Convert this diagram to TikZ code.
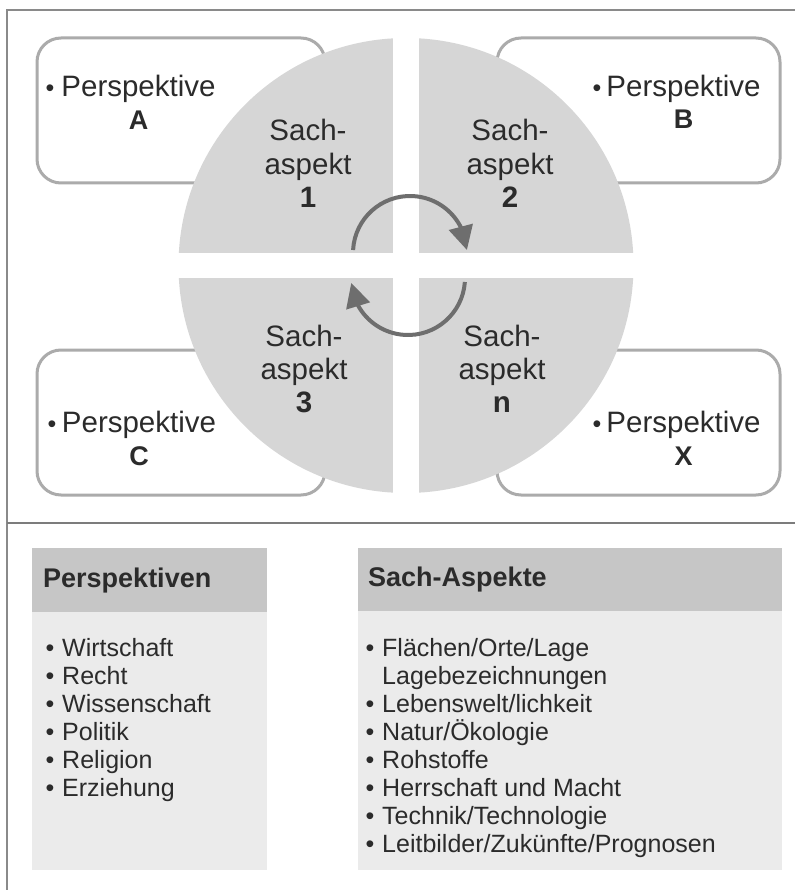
\documentclass[tikz,border=0pt]{standalone}
\usepackage{fontspec}
\setmainfont{Liberation Sans}
\usetikzlibrary{arrows.meta,bending}
\definecolor{circ}{HTML}{D6D6D6}
\definecolor{bord}{HTML}{ABABAB}
\definecolor{framec}{HTML}{8A8A8A}
\definecolor{arr}{HTML}{6E6E6E}
\definecolor{hdr}{HTML}{C6C6C6}
\definecolor{bdy}{HTML}{EBEBEB}
\definecolor{txt}{HTML}{2B2B2B}
\tikzset{
  perbox/.style={draw=bord, line width=3pt, rounded corners=24pt, fill=white,
    minimum width=288pt, minimum height=145pt, inner sep=0pt},
  pers/.style={anchor=base, inner sep=0pt, text=txt, font=\fontsize{29.5}{34}\selectfont},
  perbul/.style={anchor=base, inner sep=0pt, text=txt, font=\fontsize{25}{30}\selectfont},
  letter/.style={anchor=base, inner sep=0pt, text=txt, font=\fontsize{27}{30}\selectfont\bfseries},
  sach/.style={anchor=base, inner sep=0pt, text=txt, font=\fontsize{29.5}{34}\selectfont},
  sachnum/.style={anchor=base, inner sep=0pt, text=txt, font=\fontsize{29.5}{34}\selectfont\bfseries},
  cyc/.style={draw=arr, line width=4pt, -{Triangle[length=24pt,width=24pt]}},
  hdrbox/.style={fill=hdr, draw=none, anchor=north west, inner sep=0pt},
  bdybox/.style={fill=bdy, draw=none, anchor=north west, inner sep=0pt},
  hdrtxt/.style={anchor=base west, inner sep=0pt, text=txt, font=\fontsize{27}{32}\selectfont\bfseries},
  itm/.style={anchor=base west, inner sep=0pt, text=txt, font=\fontsize{25}{28}\selectfont},
  itmbul/.style={anchor=base, inner sep=0pt, text=txt, font=\fontsize{25}{28}\selectfont},
}
\begin{document}
\begin{tikzpicture}[x=1pt,y=-1pt]
\useasboundingbox (0,0) rectangle (795,890);
\fill[white] (0,0) rectangle (795,890);
% frame
\draw[framec, line width=2pt] (7,890) -- (7,10) -- (795,10);
\draw[framec!90!black, line width=2.5pt] (7,523) -- (795,523);

% perspective boxes
\node[perbox] (boxA) at (181,110.5) {};
\node[perbox, minimum width=283pt] (boxB) at (638.5,110.5) {};
\node[perbox] (boxC) at (181,422.5) {};
\node[perbox, minimum width=283pt] (boxX) at (638.5,422.5) {};

% circle with cross
\fill[circ] (406,265.5) circle[radius=227.5];
\begin{scope}
  \clip (406,265.5) circle[radius=228.5];
  \fill[white] (393,30) rectangle (419,500);
  \fill[white] (170,253) rectangle (645,278);
\end{scope}

% cycle arrows
\coordinate (c1) at (410,253);
\coordinate (c2) at (408,278);
\draw[cyc] ([shift={(183:57)}]c1) arc[start angle=183, end angle=357, radius=57];
\draw[cyc] ([shift={(4:57)}]c2) arc[start angle=4, end angle=175, radius=57];

% perspective texts
\node[perbul] (bA) at (50,97) {•};
\node[pers] (pA) at (138.5,97) {Perspektive};
\node[letter] (lA) at (138.5,130) {A};
\node[perbul] (bB) at (597,97) {•};
\node[pers] (pB) at (683.5,97) {Perspektive};
\node[letter] (lB) at (683.5,129) {B};
\node[perbul] (bC) at (52,432) {•};
\node[pers] (pC) at (139,432) {Perspektive};
\node[letter] (lC) at (139,465) {C};
\node[perbul] (bX) at (597,432) {•};
\node[pers] (pX) at (683.5,432) {Perspektive};
\node[letter] (lX) at (683.5,465) {X};

% Sach-aspekt texts
\node[sach] (s1a) at (308,141) {Sach-};
\node[sach] (s1b) at (308,175) {aspekt};
\node[sachnum] (s1c) at (308,208) {1};
\node[sach] (s2a) at (510,141) {Sach-};
\node[sach] (s2b) at (510,175) {aspekt};
\node[sachnum] (s2c) at (510,208) {2};
\node[sach] (s3a) at (304,346) {Sach-};
\node[sach] (s3b) at (304,379) {aspekt};
\node[sachnum] (s3c) at (304,412) {3};
\node[sach] (sna) at (502,346) {Sach-};
\node[sach] (snb) at (502,379) {aspekt};
\node[sachnum] (snc) at (502,412) {n};

% bottom tables
\node[hdrbox, minimum width=235pt, minimum height=64pt] (ph) at (32,548) {};
\node[bdybox, minimum width=235pt, minimum height=258pt] (pb) at (32,612) {};
\node[hdrbox, minimum width=424pt, minimum height=63pt] (sh) at (358,548) {};
\node[bdybox, minimum width=424pt, minimum height=259pt] (sb) at (358,611) {};

\node[hdrtxt] (pht) at (43,587) {Perspektiven};
\node[hdrtxt] (sht) at (368,586) {Sach-Aspekte};

\foreach \t [count=\i from 0] in {Wirtschaft, Recht, Wissenschaft, Politik, Religion, Erziehung} {
  \node[itmbul] (pbul\i) at (50,{656+28*\i}) {•};
  \node[itm] (pit\i) at (62,{656+28*\i}) {\t};
}

\node[itmbul] (sbul0) at (370,656) {•};
\node[itm] (sit0) at (382,656) {Flächen/Orte/Lage};
\node[itm] (sit1) at (382,684) {Lagebezeichnungen};
\node[itmbul] (sbul2) at (370,712) {•};
\node[itm] (sit2) at (382,712) {Lebenswelt/lichkeit};
\node[itmbul] (sbul3) at (370,740) {•};
\node[itm] (sit3) at (382,740) {Natur/Ökologie};
\node[itmbul] (sbul4) at (370,768) {•};
\node[itm] (sit4) at (382,768) {Rohstoffe};
\node[itmbul] (sbul5) at (370,796) {•};
\node[itm] (sit5) at (382,796) {Herrschaft und Macht};
\node[itmbul] (sbul6) at (370,824) {•};
\node[itm] (sit6) at (382,824) {Technik/Technologie};
\node[itmbul] (sbul7) at (370,852) {•};
\node[itm] (sit7) at (382,852) {Leitbilder/Zukünfte/Prognosen};
\end{tikzpicture}
\end{document}
